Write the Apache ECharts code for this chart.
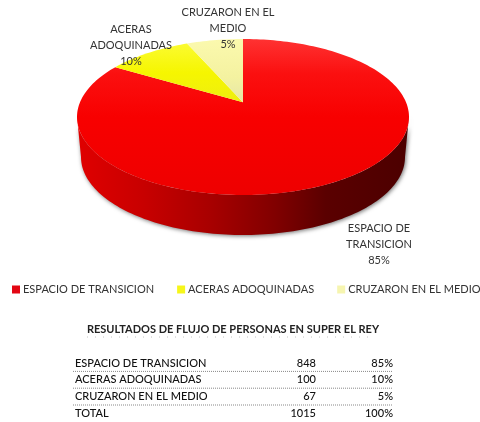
<!DOCTYPE html>
<html><head><meta charset="utf-8">
<style>html,body{margin:0;padding:0;background:#fff}#c{width:480px;height:422px;filter:blur(0.35px)}</style>
<script src="https://cdn.jsdelivr.net/npm/echarts@6/dist/echarts.min.js"></script>
</head><body><div id="c"></div>
<script>
const categories = ['ESPACIO DE TRANSICION', 'ACERAS ADOQUINADAS', 'CRUZARON EN EL MEDIO'];
const tableNames = ['ESPACIO DE TRANSICION', 'ACERAS ADOQUINADAS', 'CRUZARON EN EL MEDIO', 'TOTAL'];
const counts = [848, 100, 67];
const shares = ['85%', '10%', '5%'];
const tableCounts = ['848', '100', '67', '1015'];
const tableShares = ['85%', '10%', '5%', '100%'];
const sliceLabels = [['ESPACIO DE', 'TRANSICION'], ['ACERAS', 'ADOQUINADAS'], ['CRUZARON EN EL', 'MEDIO']];
const tableTitle = 'RESULTADOS DE FLUJO DE PERSONAS EN SUPER EL REY';

const FONT = 'Lato, "Open Sans", sans-serif';
const pie = { cx: 243, cy: 117, rx: 166, ry: 78, depth: 40, baseRx: 162, tilt: -0.19 };
const labelBoxes = [{ x: 379, y: 228 }, { x: 131, y: 29 }, { x: 228, y: 12 }];
const total = counts.reduce((a, b) => a + b, 0);

function rimPoint(a, r) {
  const x = Math.sin(a) * r, y = -Math.cos(a) * r, c = pie.tilt;
  const d = 1 + c * y;
  return [pie.cx + pie.rx * x * Math.sqrt(1 - c * c) / d, pie.cy + pie.ry * (y + c) / d];
}
function slicePolygon(from, to) {
  const pts = [rimPoint(0, 0)];
  const a0 = from / total * Math.PI * 2, a1 = to / total * Math.PI * 2;
  const n = Math.max(8, Math.ceil((a1 - a0) * 40));
  for (let i = 0; i <= n; i++) pts.push(rimPoint(a0 + (a1 - a0) * i / n, 1));
  return pts;
}
const grad = (x, y, x2, y2, stops) => new echarts.graphic.LinearGradient(x, y, x2, y2,
  stops.map(s => ({ offset: s[0], color: s[1] })));
const sliceFills = [
  () => grad(0, 0, 0, 1, [[0, '#ff3232'], [0.22, '#fb1010'], [0.5, '#f80000'], [1, '#ee0000']]),
  () => grad(0, 0, 0, 1, [[0, '#fbfb30'], [0.5, '#f6f600'], [1, '#eeee10']]),
  () => grad(0, 0, 0, 1, [[0, '#fbf9ae'], [0.6, '#f4f2a0'], [1, '#e6e6a8']])
];
const legendColors = ['#e30613', '#f6f61a', '#f6f5b0'];

function sliceSeries(i) {
  const from = counts.slice(0, i).reduce((a, b) => a + b, 0);
  return {
    type: 'custom', name: categories[i], coordinateSystem: 'none', silent: true,
    itemStyle: { color: legendColors[i] }, z: 3,
    data: [[counts[i]]],
    renderItem: function () {
      return {
        type: 'polygon',
        shape: { points: slicePolygon(from, from + counts[i]) },
        style: { fill: sliceFills[i]() }
      };
    }
  };
}
const wallSeries = {
  type: 'custom', name: 'wall', coordinateSystem: 'none', silent: true, z: 2,
  data: [[counts[0]]],
  renderItem: function () {
    const pts = [], low = [];
    for (let i = 0; i <= 120; i++) {
      const t = Math.PI * i / 120;
      pts.push([pie.cx - pie.rx * Math.cos(t), pie.cy + pie.ry * Math.sin(t)]);
      low.unshift([pie.cx - pie.baseRx * Math.cos(t), pie.cy + pie.depth + pie.ry * Math.sin(t)]);
    }
    return {
      type: 'polygon', shape: { points: pts.concat(low) },
      style: {
        fill: grad(0, 0, 1, 0, [[0, '#e00000'], [0.2, '#c80000'], [0.4, '#a80000'], [0.6, '#800000'], [0.75, '#5a0000'], [1, '#4c0000']]),
        shadowBlur: 4, shadowColor: 'rgba(0,0,0,0.55)', shadowOffsetX: 1, shadowOffsetY: 1
      }
    };
  }
};

const graphics = [];
const text = (t, x, y, align, o) => graphics.push({
  type: 'text', x, y, silent: true, z: 20,
  style: Object.assign({ text: t, align, verticalAlign: 'middle', font: '11px ' + FONT, fill: '#333' }, o || {})
});
sliceLabels.forEach((lines, i) => {
  const rows = lines.concat(shares[i]);
  rows.forEach((t, k) => text(t, labelBoxes[i].x, labelBoxes[i].y + k * 16, 'center'));
});
text(tableTitle, 233, 329, 'center', { font: '700 11px ' + FONT, fill: '#222' });
graphics.push({ type: 'line', silent: true, z: 20, shape: { x1: 87, y1: 337, x2: 370, y2: 337 },
  style: { stroke: '#c4c4c4', lineWidth: 1, lineDash: [1, 7] } });
tableNames.forEach((n, i) => {
  const y = 363 + i * 16.8;
  const row = { fill: '#111', font: '500 11px ' + FONT };
  text(n, 75, y, 'left', row);
  text(tableCounts[i], 316, y, 'right', row);
  text(tableShares[i], 393, y, 'right', row);
  if (i < 3) graphics.push({ type: 'line', silent: true, z: 20, shape: { x1: 73, y1: y + 8.4, x2: 393, y2: y + 8.4 },
    style: { stroke: '#888', lineWidth: 1, lineDash: [1, 1] } });
});

const chart = echarts.init(document.getElementById('c'), null, { renderer: 'canvas' });
chart.setOption({
  animation: false, backgroundColor: '#fff',
  legend: {
    data: categories, left: 12, top: 284, padding: 0, width: 476, itemWidth: 8, itemHeight: 8, itemGap: 23, icon: 'rect', selectedMode: false,
    textStyle: { fontFamily: FONT, fontSize: 11, color: '#333', padding: [0, 0, 0, -2] }
  },
  graphic: { elements: graphics },
  series: [wallSeries].concat(categories.map((c, i) => sliceSeries(i)))
});
</script></body></html>
